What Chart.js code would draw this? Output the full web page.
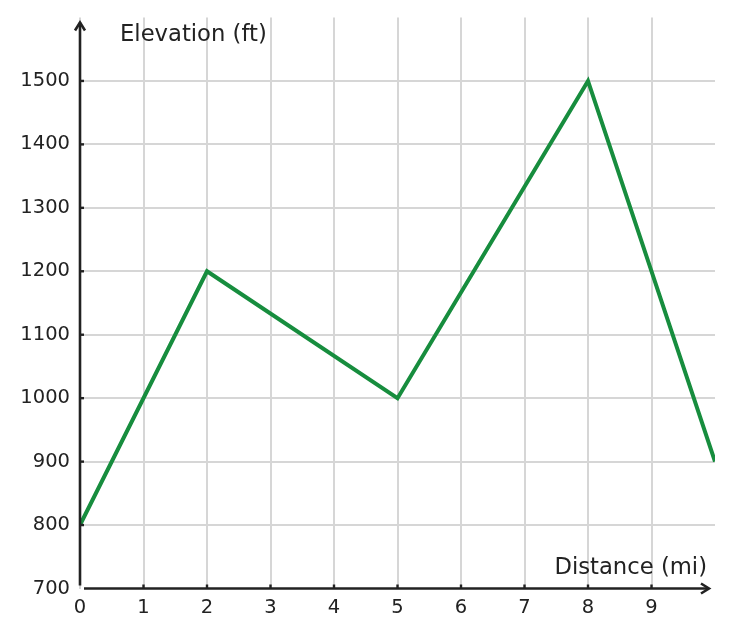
<!DOCTYPE html>
<html>
<head>
<meta charset="utf-8">
<script src="https://cdn.jsdelivr.net/npm/chart.js@4.4.0/dist/chart.umd.min.js"></script>
<style>
  body { margin: 0; background: #fff; }
  #wrap { width: 732px; height: 637px; }
</style>
</head>
<body>
<div id="wrap"><canvas id="myChart" width="732" height="637"></canvas></div>
<script>
// data
const distances = [0, 2, 5, 8, 10]
const elevations = [800, 1200, 1000, 1500, 900]
const xTicks = [0, 1, 2, 3, 4, 5, 6, 7, 8, 9]
const yTicks = [700, 800, 900, 1000, 1100, 1200, 1300, 1400, 1500]
const xTitle = "Distance (mi)"
const yTitle = "Elevation (ft)"

const ink = "#222222"
const gridColor = "#d6d6d6"

// axes with arrows, small ticks and titles
const axesPlugin = {
  id: "axesArrows",
  afterDatasetsDraw(chart) {
    const c = chart.ctx
    const xs = chart.scales.x
    const ys = chart.scales.y
    const x0 = xs.getPixelForValue(0)
    const y0 = ys.getPixelForValue(700)
    const top = ys.getPixelForValue(1600)
    const right = xs.getPixelForValue(10)
    c.save()
    c.strokeStyle = ink
    c.lineWidth = 2.6
    c.lineCap = "butt"
    // y axis
    c.beginPath()
    c.moveTo(x0, y0 - 3)
    c.lineTo(x0, top + 5)
    c.stroke()
    c.beginPath()
    c.moveTo(x0 - 5, top + 13)
    c.lineTo(x0, top + 5)
    c.lineTo(x0 + 5, top + 13)
    c.stroke()
    // x axis
    c.beginPath()
    c.moveTo(x0 + 4, y0)
    c.lineTo(right - 6, y0)
    c.stroke()
    c.beginPath()
    c.moveTo(right - 14, y0 - 5)
    c.lineTo(right - 6, y0)
    c.lineTo(right - 14, y0 + 5)
    c.stroke()
    // tick marks
    c.lineWidth = 2.4
    xTicks.forEach(v => {
      if (v === 0) return
      const px = xs.getPixelForValue(v)
      c.beginPath()
      c.moveTo(px, y0)
      c.lineTo(px, y0 - 4)
      c.stroke()
    })
    yTicks.forEach(v => {
      if (v === 700) return
      const py = ys.getPixelForValue(v)
      c.beginPath()
      c.moveTo(x0, py)
      c.lineTo(x0 + 4, py)
      c.stroke()
    })
    // titles
    c.fillStyle = ink
    c.font = "22.7px 'DejaVu Sans'"
    c.textBaseline = "middle"
    c.textAlign = "left"
    c.fillText(yTitle, 120, 35)
    c.textAlign = "right"
    c.fillText(xTitle, 707, 568)
    c.restore()
  },
}

const ctx = document.getElementById("myChart").getContext("2d")
const myChart = new Chart(ctx, {
  type: "line",
  data: {
    datasets: [
      {
        data: distances.map((d, i) => ({ x: d, y: elevations[i] })),
        borderColor: "#178d3e",
        borderWidth: 4,
        pointRadius: 0,
        fill: false,
        tension: 0,
      },
    ],
  },
  options: {
    responsive: false,
    animation: false,
    layout: { padding: { top: 17.5, right: 17, left: 0, bottom: 0 } },
    plugins: {
      legend: { display: false },
      tooltip: { enabled: false },
    },
    scales: {
      x: {
        type: "linear",
        min: 0,
        max: 10,
        afterFit(scale) {
          scale.height = 48.5
          scale.paddingLeft = 0
          scale.paddingRight = 0
        },
        afterBuildTicks(scale) { scale.ticks = xTicks.concat([10]).map(v => ({ value: v })) },
        border: { display: false },
        grid: {
          drawTicks: false,
          lineWidth: 2,
          color: c => (c.tick && c.tick.value === 10 ? "rgba(0,0,0,0)" : gridColor),
        },
        ticks: {
          padding: 8,
          color: ink,
          font: { family: "DejaVu Sans", size: 19.5 },
          maxRotation: 0,
          callback: v => (xTicks.includes(v) ? String(v) : ""),
        },
      },
      y: {
        type: "linear",
        min: 700,
        max: 1600,
        afterFit(scale) {
          scale.width = 80
          scale.paddingTop = 0
          scale.paddingBottom = 0
        },
        afterBuildTicks(scale) { scale.ticks = yTicks.concat([1600]).map(v => ({ value: v })) },
        border: { display: false },
        grid: {
          drawTicks: false,
          lineWidth: 2,
          color: c => (c.tick && (c.tick.value === 1600 || c.tick.value === 700) ? "rgba(0,0,0,0)" : gridColor),
        },
        ticks: {
          padding: 10,
          color: ink,
          font: { family: "DejaVu Sans", size: 19.5 },
          callback: v => (yTicks.includes(v) ? String(v) : ""),
        },
      },
    },
  },
  plugins: [axesPlugin],
})
</script>
</body>
</html>
